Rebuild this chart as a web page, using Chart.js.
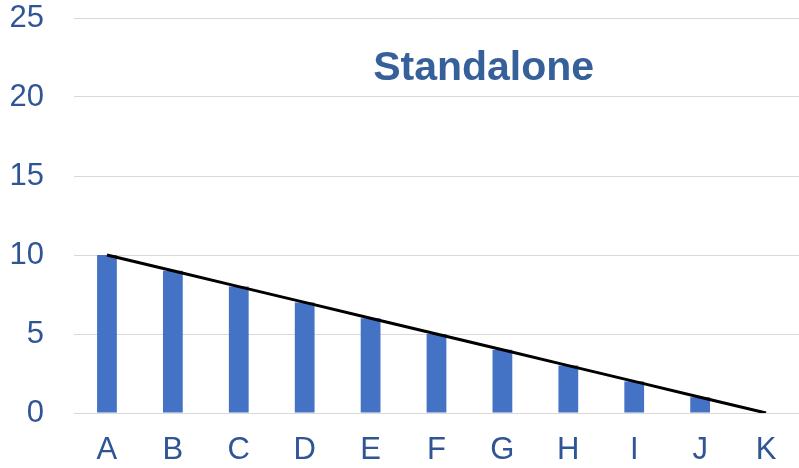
<!DOCTYPE html>
<html>
<head>
<meta charset="utf-8">
<script src="https://cdn.jsdelivr.net/npm/chart.js@4.4.1/dist/chart.umd.min.js"></script>
<style>
  html, body { margin: 0; padding: 0; background: #ffffff; }
  #wrap { width: 799px; height: 468px; }
</style>
</head>
<body>
<div id="wrap"><canvas id="c" width="799" height="468"></canvas></div>
<script>
// Category labels along the x axis
const categories = ['A', 'B', 'C', 'D', 'E', 'F', 'G', 'H', 'I', 'J', 'K'];
// Bar heights per category
const barValues = [10, 9, 8, 7, 6, 5, 4, 3, 2, 1, 0];
// Straight reference line from A down to K
const lineValues = [10, 9, 8, 7, 6, 5, 4, 3, 2, 1, 0];
// Value axis range and step
const yMin = 0;
const yMax = 25;
const yStep = 5;
const chartTitle = 'Standalone';

const FONT = '"Liberation Sans", Arial, sans-serif';
const TICK_COLOR = '#2F5597';
const TITLE_COLOR = '#36609A';

// Title drawn inside the plot area, above the bars
const innerTitle = {
  id: 'innerTitle',
  afterDraw(chart) {
    const { ctx, chartArea } = chart;
    ctx.save();
    ctx.font = 'bold 41px ' + FONT;
    ctx.fillStyle = TITLE_COLOR;
    ctx.textAlign = 'center';
    ctx.textBaseline = 'middle';
    const x = chartArea.left + (chartArea.right - chartArea.left) * 0.565;
    const y = chartArea.top + 51;
    ctx.fillText(chartTitle, x, y);
    ctx.restore();
  }
};

new Chart(document.getElementById('c'), {
  data: {
    labels: categories,
    datasets: [
      {
        type: 'line',
        data: lineValues,
        borderColor: '#000000',
        borderWidth: 3,
        pointRadius: 0,
        tension: 0,
        fill: false,
        order: 0
      },
      {
        type: 'bar',
        data: barValues,
        backgroundColor: '#4472C4',
        categoryPercentage: 1,
        barPercentage: 0.3,
        order: 1
      }
    ]
  },
  options: {
    responsive: false,
    animation: false,
    layout: { padding: { top: 18, right: 0, left: 0, bottom: 0 } },
    plugins: {
      legend: { display: false },
      tooltip: { enabled: false },
      title: { display: false }
    },
    scales: {
      x: {
        grid: { display: false, drawTicks: false },
        border: { display: false },
        ticks: {
          color: TICK_COLOR,
          font: { family: FONT, size: 31 },
          padding: 19,
          maxRotation: 0,
          autoSkip: false
        },
        afterFit(scale) {
          scale.height = 55;
          scale.paddingLeft = 0;
          scale.paddingRight = 0;
        }
      },
      y: {
        min: yMin,
        max: yMax,
        grid: { color: '#D9D9D9', lineWidth: 1, drawTicks: false },
        border: { display: false },
        ticks: {
          stepSize: yStep,
          color: TICK_COLOR,
          font: { family: FONT, size: 31 },
          padding: 30
        },
        afterFit(scale) {
          scale.width = 74;
          scale.paddingTop = 0;
          scale.paddingBottom = 0;
        }
      }
    }
  },
  plugins: [innerTitle]
});
</script>
</body>
</html>
